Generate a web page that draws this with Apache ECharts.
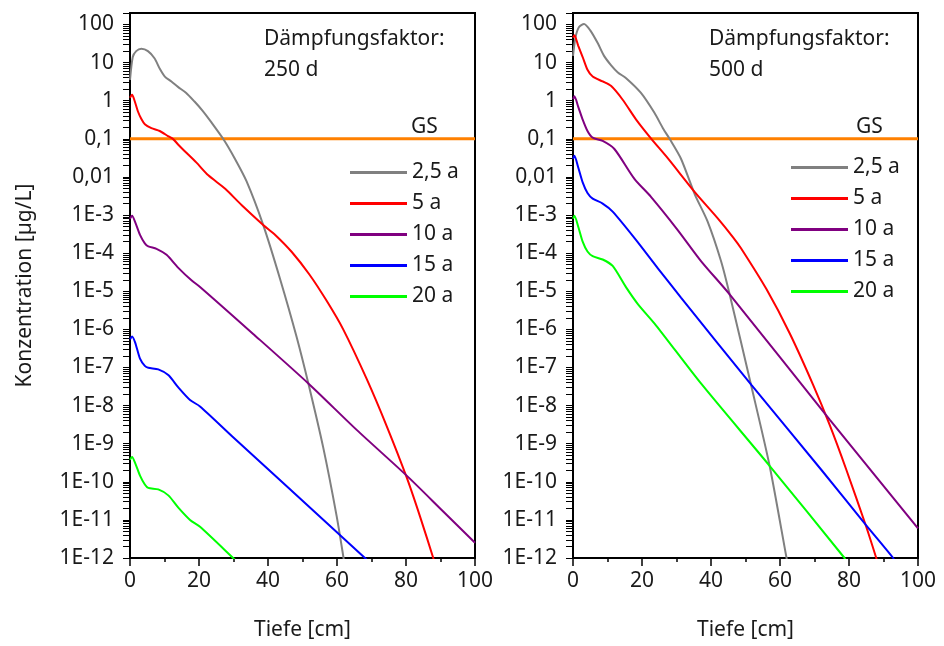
<!DOCTYPE html>
<html>
<head>
<meta charset="utf-8">
<script src="https://cdn.jsdelivr.net/npm/echarts@6/dist/echarts.min.js"></script>
<style>
html,body{margin:0;padding:0;background:#fff;}
#chart{width:944px;height:646px;}
</style>
</head>
<body>
<div id="chart"></div>
<script>
// ---- Data (depth [cm], concentration [µg/L]) ----
const seriesNames = ['2,5 a', '5 a', '10 a', '15 a', '20 a'];
const seriesColors = ['#808080', '#ff0000', '#800080', '#0000ff', '#00ff00'];

// Left panel: Dämpfungsfaktor 250 d
const left_2_5a = [[0,3.5],[0.8,14],[1.8,20],[3.3,23],[5.2,20],[7.1,13],[8.6,7],[10.1,4.3],[12,3.2],[13.9,2.3],[16.3,1.6],[18.7,0.95],[21,0.55],[23.6,0.27],[27,0.1],[30.4,0.03],[33.8,0.0076],[38.6,5.5e-4],[43.5,2.1e-5],[48.3,6.3e-7],[51.7,3.8e-8],[56,8e-10],[59.9,1.26e-11],[61.9,1e-12],[62.4,5e-13]];
const left_5a = [[0,1.2],[0.6,1.43],[1.4,0.95],[2.3,0.52],[3.3,0.33],[4.3,0.24],[6.2,0.19],[8.6,0.16],[11,0.118],[12.5,0.098],[14,0.07],[15.8,0.048],[19.2,0.024],[22.7,0.011],[27.6,0.0049],[32.4,0.0018],[38.6,5.5e-4],[42.1,3e-4],[46.9,1.07e-4],[52,2.75e-5],[57,5.6e-6],[61.8,1e-6],[68.6,5e-8],[74.4,2.9e-9],[80.2,1.3e-10],[84.1,1.2e-11],[87.9,1e-12],[88.4,7e-13]];
const left_10a = [[0,8e-4],[0.6,9.5e-4],[1.5,6.5e-4],[2.9,3e-4],[4.3,1.8e-4],[5.3,1.5e-4],[7.7,1.3e-4],[10.6,9e-5],[14,4.1e-5],[17.9,1.9e-5],[20.3,1.3e-5],[35.7,7.6e-7],[51.7,3.8e-8],[65.7,2.3e-9],[80.2,1.45e-10],[89.9,2e-11],[100,2.5e-12]];
const left_15a = [[0,5.5e-7],[0.6,6.5e-7],[1.5,4.5e-7],[2.9,1.7e-7],[4.3,1.1e-7],[5.3,9.8e-8],[8.2,8.9e-8],[11.1,6.3e-8],[14,3e-8],[17.4,1.4e-8],[20.3,9.5e-9],[29.5,1.6e-9],[44.4,9.3e-11],[68.1,1e-12],[69,8.3e-13]];
const left_20a = [[0,3.8e-10],[0.6,4.5e-10],[1.5,3.1e-10],[2.9,1.45e-10],[4.3,8.5e-11],[5.3,6.9e-11],[8.2,6.3e-11],[11.1,4.4e-11],[14,2.1e-11],[17.4,1e-11],[20.3,6.6e-12],[29.9,1e-12],[31,8e-13]];

// Right panel: Dämpfungsfaktor 500 d
const right_2_5a = [[0,15],[0.7,45],[1.7,85],[3.2,103],[5,70],[7.2,32],[9,15],[11,8.6],[13,5.5],[15.4,3.9],[19.7,1.6],[23.6,0.48],[26.2,0.18],[28,0.1],[31.3,0.03],[35.3,0.0035],[39,6.8e-4],[42.9,6.2e-5],[45.4,8.3e-6],[51.7,3.2e-8],[57,2.6e-10],[61.9,1e-12],[62.4,6e-13]];
const right_5a = [[0,45],[0.4,52],[1.5,28],[2.8,14],[4.2,6.5],[5.7,4.3],[8.6,3.2],[11,2.45],[14.4,1.06],[18.3,0.32],[22.7,0.1],[27.4,0.0316],[35.3,0.004],[41.9,8.3e-4],[46.4,2.6e-4],[48.7,1.34e-4],[56.1,1.12e-5],[62.8,7.9e-7],[69.6,3.5e-8],[74.4,3.1e-9],[79.2,2.1e-10],[85,6.6e-12],[87.9,1e-12],[88.4,7e-13]];
const right_10a = [[0,1.1],[0.4,1.3],[1.5,0.7],[2.8,0.32],[4.2,0.16],[5.7,0.107],[8.6,0.088],[12,0.054],[17.8,0.0089],[22.6,0.003],[30.3,4.1e-4],[37.1,6.2e-5],[45.4,8.3e-6],[74.4,4.3e-9],[100,6e-12]];
const right_15a = [[0,0.03],[0.4,0.036],[1.5,0.018],[2.8,0.0072],[4.2,0.0038],[5.7,0.0027],[8.6,0.002],[11.5,0.00123],[18.3,2.2e-4],[24.6,4e-5],[31.3,6.8e-6],[51.7,3.5e-8],[71.9,2.1e-10],[85,7.2e-12],[92.8,1e-12],[93.3,8e-13]];
const right_20a = [[0,8e-4],[0.4,9.5e-4],[1.5,5e-4],[2.8,2e-4],[4.2,1.1e-4],[5.7,8.3e-5],[8.6,6.8e-5],[11.5,4.6e-5],[15.4,1.26e-5],[18.8,4.6e-6],[24.1,1.26e-6],[37.1,3.8e-8],[56.8,2.75e-10],[78.7,1e-12],[79.2,8e-13]];

// Limit value (GS)
const gsLine = [[0,0.1],[100,0.1]];

// Axis ticks / labels
const yTickValues = [1e-12,1e-11,1e-10,1e-9,1e-8,1e-7,1e-6,1e-5,1e-4,1e-3,0.01,0.1,1,10,100];
const yTickLabels = ['1E-12','1E-11','1E-10','1E-9','1E-8','1E-7','1E-6','1E-5','1E-4','1E-3','0,01','0,1','1','10','100'];
const panelTexts = ['Dämpfungsfaktor:\n250 d', 'Dämpfungsfaktor:\n500 d'];

// ---- Build ----
const FONT = 'Noto Sans';
const TXT = '#1a1a1a';
// all log ticks (decades plus 2..9 subdivisions)
const allYTicks = [];
for (let e = -12; e <= 2; e++) {
  for (let k = 1; k <= 9; k++) {
    const v = parseFloat((k * Math.pow(10, e)).toPrecision(6));
    if (v <= 200) allYTicks.push(v);
  }
}

const gridsPos = [{left: 130, top: 13, width: 345, height: 550}, {left: 573, top: 13, width: 345, height: 550}];
const panels = [
  [left_2_5a, left_5a, left_10a, left_15a, left_20a],
  [right_2_5a, right_5a, right_10a, right_15a, right_20a]
];

const grid = gridsPos.map(g => Object.assign({show: true, borderColor: '#000', borderWidth: 2, backgroundColor: 'transparent'}, g));

const xAxis = [0, 1].map(i => ({
  type: 'value', gridIndex: i, min: 0, max: 100, interval: 20,
  name: 'Tiefe [cm]', nameLocation: 'middle', nameGap: 62,
  nameTextStyle: {fontFamily: FONT, fontSize: 21, color: TXT},
  axisLine: {onZero: false, lineStyle: {color: '#000', width: 2}},
  axisTick: {inside: false, length: 8, lineStyle: {color: '#000', width: 1.5}},
  minorTick: {show: true, splitNumber: 2, length: 4, lineStyle: {color: '#000', width: 1.5}},
  splitLine: {show: false}, minorSplitLine: {show: false},
  axisLabel: {fontFamily: FONT, fontSize: 21, color: TXT, margin: 13}
}));

const yAxis = [0, 1].map(i => ({
  type: 'log', logBase: 10, gridIndex: i, min: 1e-12, max: 200,
  name: i === 0 ? 'Konzentration [µg/L]' : '', nameLocation: 'middle', nameGap: 94,
  nameTextStyle: {fontFamily: FONT, fontSize: 21, color: TXT},
  axisLine: {onZero: false, lineStyle: {color: '#000', width: 2}},
  axisTick: {inside: false, length: 7, customValues: allYTicks, lineStyle: {color: '#000', width: 1}},
  axisLabel: {
    customValues: yTickValues, fontFamily: FONT, fontSize: 21, color: TXT, margin: 16,
    formatter: v => yTickLabels[Math.round(Math.log10(v)) + 12]
  },
  splitLine: {show: false}, minorSplitLine: {show: false}
}));

const series = [];
[0, 1].forEach(p => {
  series.push({
    name: 'GS', type: 'line', xAxisIndex: p, yAxisIndex: p,
    data: gsLine, symbol: 'none', showSymbol: false,
    lineStyle: {color: '#ff8000', width: 3}, itemStyle: {color: '#ff8000'},
    silent: true, z: 1
  });
  panels[p].forEach((d, k) => {
    series.push({
      name: seriesNames[k], type: 'line', xAxisIndex: p, yAxisIndex: p,
      data: d, symbol: 'none', showSymbol: false, smooth: 0.25,
      color: seriesColors[k],
      lineStyle: {color: seriesColors[k], width: 2}, itemStyle: {color: seriesColors[k]},
      silent: true, z: 2
    });
  });
});

const legend = [
  {left: 350, top: 162},
  {left: 791, top: 157}
].map(pos => Object.assign({
  data: seriesNames, orient: 'vertical', icon: 'rect', itemWidth: 57, itemHeight: 3, itemGap: 10,
  padding: 0, selectedMode: false,
  textStyle: {fontFamily: FONT, fontSize: 21, color: TXT, lineHeight: 21}
}, pos));

const title = [
  {text: panelTexts[0], left: 264, top: 24},
  {text: panelTexts[1], left: 709, top: 24},
  {text: 'GS', left: 411, top: 112},
  {text: 'GS', left: 856, top: 112}
].map(t => Object.assign({padding: 0, textStyle: {fontFamily: FONT, fontSize: 21, fontWeight: 'normal', color: TXT, lineHeight: 31}}, t));

const chart = echarts.init(document.getElementById('chart'), null, {renderer: 'canvas'});
chart.setOption({
  animation: false,
  backgroundColor: '#fff',
  title, legend, grid, xAxis, yAxis, series
});
</script>
</body>
</html>
